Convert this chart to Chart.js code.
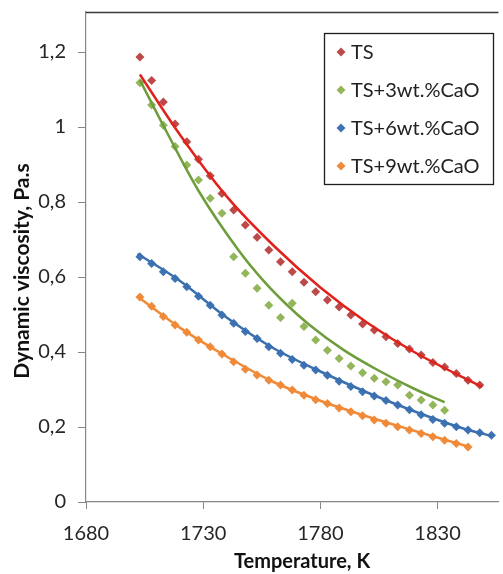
<!DOCTYPE html>
<html>
<head>
<meta charset="utf-8">
<title>Dynamic viscosity</title>
<script src="https://cdn.jsdelivr.net/npm/chart.js@4.4.0/dist/chart.umd.min.js"></script>
<style>
  body { margin: 0; background: #fff; }
  canvas { display: block; }
</style>
</head>
<body>
<canvas id="viscosityChart" width="503" height="574"></canvas>
<script>
// measured temperatures, K (each series uses the first n values)
const temperature = [1703, 1708, 1713, 1718, 1723, 1728, 1733, 1738, 1743, 1748,
    1753, 1758, 1763, 1768, 1773, 1778, 1783, 1788, 1793, 1798,
    1803, 1808, 1813, 1818, 1823, 1828, 1833, 1838, 1843, 1848, 1853];

const seriesLabels = ['TS', 'TS+3wt.%CaO', 'TS+6wt.%CaO', 'TS+9wt.%CaO'];

// dynamic viscosity, Pa.s
const viscosityTS = [1.187, 1.124, 1.067, 1.008, 0.961, 0.914, 0.870, 0.823, 0.779, 0.739,
    0.706, 0.672, 0.641, 0.614, 0.586, 0.561, 0.539, 0.520, 0.499, 0.475,
    0.459, 0.441, 0.423, 0.408, 0.392, 0.372, 0.360, 0.343, 0.325, 0.312];
const viscosityCaO3 = [1.118, 1.059, 1.005, 0.948, 0.899, 0.859, 0.810, 0.770, 0.654, 0.610,
    0.570, 0.525, 0.492, 0.530, 0.468, 0.432, 0.405, 0.383, 0.363, 0.345,
    0.330, 0.321, 0.312, 0.285, 0.272, 0.259, 0.245];
const viscosityCaO6 = [0.654, 0.636, 0.614, 0.596, 0.574, 0.549, 0.525, 0.499, 0.477, 0.455,
    0.436, 0.414, 0.397, 0.380, 0.365, 0.352, 0.338, 0.322, 0.308, 0.294,
    0.283, 0.271, 0.259, 0.246, 0.233, 0.220, 0.210, 0.201, 0.192, 0.185, 0.178];
const viscosityCaO9 = [0.547, 0.522, 0.495, 0.472, 0.453, 0.432, 0.414, 0.395, 0.374, 0.354,
    0.339, 0.325, 0.312, 0.299, 0.285, 0.273, 0.263, 0.251, 0.241, 0.230,
    0.219, 0.210, 0.201, 0.192, 0.183, 0.174, 0.165, 0.156, 0.147];

// trend lines
const fitTempTS = [1703, 1720, 1740, 1760, 1780, 1800, 1820, 1849];
const fitTS = [1.140, 0.980, 0.815, 0.684, 0.572, 0.478, 0.400, 0.307];
const fitTempCaO3 = [1703, 1715, 1728, 1745, 1755, 1765, 1775, 1790, 1805, 1820, 1833];
const fitCaO3 = [1.125, 0.980, 0.830, 0.672, 0.595, 0.530, 0.474, 0.405, 0.350, 0.302, 0.266];
const fitTempCaO6 = [1702, 1720, 1740, 1760, 1780, 1800, 1820, 1840, 1853];
const fitCaO6 = [0.662, 0.590, 0.492, 0.410, 0.348, 0.292, 0.242, 0.198, 0.176];
const fitTempCaO9 = [1702, 1720, 1740, 1760, 1780, 1800, 1820, 1843];
const fitCaO9 = [0.548, 0.465, 0.388, 0.320, 0.270, 0.228, 0.190, 0.148];

const xTicks = [1680, 1730, 1780, 1830];
const yTicks = [0, 0.2, 0.4, 0.6, 0.8, 1, 1.2];
const yTickLabels = ['0', '0,2', '0,4', '0,6', '0,8', '1', '1,2'];

const markerColors = ['#BC4A48', '#93B65A', '#3F74B4', '#EE8B3C'];
const lineColors = ['#E0221C', '#6E9D3C', '#3A6FB0', '#F08A36'];

function toPoints(xs, ys) {
    return ys.map(function(y, i) { return {x: xs[i], y: y}; });
}

const measured = [viscosityTS, viscosityCaO3, viscosityCaO6, viscosityCaO9];
const fits = [[fitTempTS, fitTS], [fitTempCaO3, fitCaO3], [fitTempCaO6, fitCaO6], [fitTempCaO9, fitCaO9]];

const datasets = [];
measured.forEach(function(values, i) {
    datasets.push({
        label: seriesLabels[i],
        data: toPoints(temperature, values),
        showLine: false,
        pointStyle: 'rectRot',
        pointRadius: 4.5,
        pointBorderWidth: 0,
        backgroundColor: markerColors[i],
        borderColor: markerColors[i],
        order: 2
    });
});
fits.forEach(function(f, i) {
    datasets.push({
        label: seriesLabels[i] + ' fit',
        data: toPoints(f[0], f[1]),
        showLine: true,
        pointRadius: 0,
        borderWidth: 2.5,
        borderColor: lineColors[i],
        backgroundColor: lineColors[i],
        cubicInterpolationMode: 'monotone',
        order: 1
    });
});

const axisColor = '#868686';
const font = 'Lato';

// frame line on top, axis titles and the boxed legend
const frameAndLegend = {
    id: 'frameAndLegend',
    afterDraw(chart) {
        const ctx = chart.ctx;
        const area = chart.chartArea;
        ctx.save();
        ctx.strokeStyle = '#3a3a3a';
        ctx.lineWidth = 1.3;
        ctx.beginPath();
        ctx.moveTo(area.left, area.top + 0.5);
        ctx.lineTo(area.right, area.top + 0.5);
        ctx.stroke();

        // axis titles
        ctx.fillStyle = '#111';
        ctx.textAlign = 'center';
        ctx.textBaseline = 'middle';
        ctx.font = 'bold 20px ' + font;
        ctx.fillText('Temperature, K', 302, 562);
        ctx.save();
        ctx.translate(22, 271);
        ctx.rotate(-Math.PI / 2);
        ctx.font = 'bold 21px ' + font;
        ctx.fillText('Dynamic viscosity, Pa.s', 0, 0);
        ctx.restore();

        ctx.fillStyle = '#fff';
        ctx.fillRect(324, 33, 169, 151);
        ctx.strokeStyle = '#1e1e1e';
        ctx.lineWidth = 1.3;
        ctx.strokeRect(324.5, 33.5, 169, 151);

        ctx.font = '20px ' + font;
        ctx.textAlign = 'left';
        seriesLabels.forEach(function(label, i) {
            const y = 52 + i * 38;
            ctx.fillStyle = markerColors[i];
            Chart.helpers.drawPoint(ctx, {pointStyle: 'rectRot', radius: 4.5, borderWidth: 0, rotation: 0}, 341, y);
            ctx.fillStyle = '#222';
            ctx.fillText(label, 351, y + 1);
        });
        ctx.restore();
    }
};

const config = {
    type: 'scatter',
    data: {datasets: datasets},
    options: {
        responsive: false,
        animation: false,
        devicePixelRatio: 1,
        layout: {padding: {top: 12, right: 0, left: 0, bottom: 0}},
        plugins: {
            legend: {display: false},
            tooltip: {enabled: false}
        },
        scales: {
            x: {
                type: 'linear',
                min: 1680,
                max: 1856,
                afterBuildTicks: function(scale) {
                    scale.ticks = xTicks.map(function(v) { return {value: v}; });
                },
                afterFit: function(scale) {
                    scale.height = 72;
                    scale.paddingLeft = 0;
                    scale.paddingRight = 0;
                },
                grid: {drawOnChartArea: false, tickLength: 7, color: axisColor},
                border: {color: axisColor, width: 1.2},
                ticks: {
                    color: '#262626',
                    font: {family: font, size: 20},
                    padding: 13,
                    maxRotation: 0,
                    callback: function(value) { return String(value); }
                }
            },
            y: {
                type: 'linear',
                min: 0,
                max: 1.3067,
                afterBuildTicks: function(scale) {
                    scale.ticks = yTicks.map(function(v) { return {value: v}; });
                },
                afterFit: function(scale) {
                    scale.width = 86;
                    scale.paddingTop = 0;
                    scale.paddingBottom = 0;
                },
                grid: {drawOnChartArea: false, tickLength: 8, color: axisColor},
                border: {color: axisColor, width: 1.2},
                ticks: {
                    color: '#262626',
                    font: {family: font, size: 20},
                    padding: 12,
                    callback: function(value) {
                        const i = yTicks.indexOf(value);
                        return i >= 0 ? yTickLabels[i] : '';
                    }
                }
            }
        }
    },
    plugins: [frameAndLegend]
};

const viscosityChart = new Chart(document.getElementById('viscosityChart'), config);
</script>
</body>
</html>
